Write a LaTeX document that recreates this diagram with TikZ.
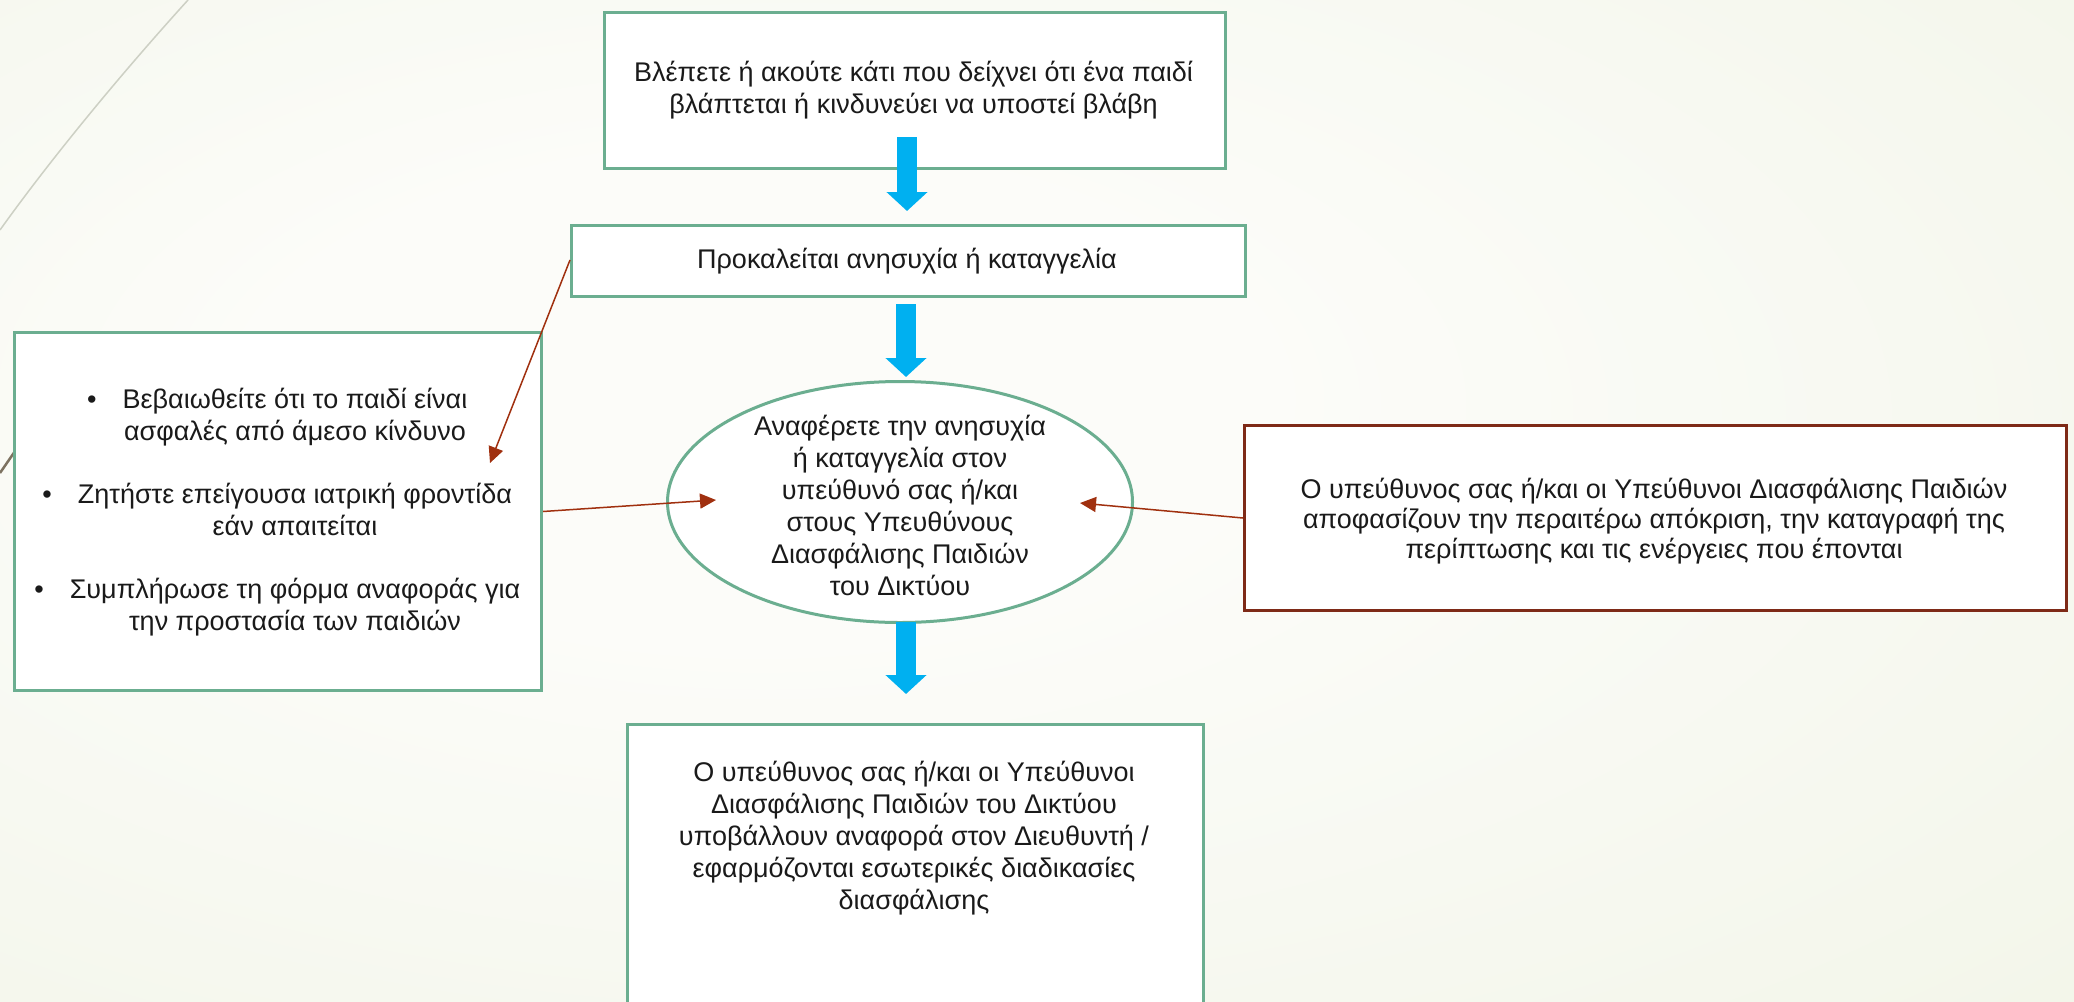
\documentclass[tikz,border=0pt]{standalone}
\usepackage{fontspec}
\setmainfont{Liberation Sans}
\usetikzlibrary{shapes.geometric,arrows.meta,calc}
\definecolor{bgin}{HTML}{FCFCF9}
\definecolor{bgmid}{HTML}{F3F6EA}
\definecolor{bgout}{HTML}{E1E9C8}
\definecolor{gborder}{HTML}{6BAE90}
\definecolor{rborder}{HTML}{7E2A17}
\definecolor{redarrow}{HTML}{A0300F}
\definecolor{bluearrowcol}{HTML}{00B0F0}
\definecolor{txtcol}{HTML}{1A1A1A}
\definecolor{curvecol}{HTML}{CDD0C4}
\definecolor{curvedark}{HTML}{7D7260}
\pgfdeclareradialshading{bgshade}{\pgfpoint{-8bp}{6bp}}{color(0bp)=(bgin); color(12bp)=(bgin); color(40bp)=(bgmid); color(80bp)=(bgout)}
\tikzset{
  gbox/.style={draw=gborder, line width=3pt, fill=white, rectangle, inner sep=0pt},
  rbox/.style={draw=rborder, line width=3pt, fill=white, rectangle, inner sep=0pt},
  txt/.style={text=txtcol, align=center, inner sep=0pt, font=\fontsize{27}{32}\selectfont},
  bluearr/.style={draw=bluearrowcol, line width=20pt, -{Triangle[length=19pt,width=40pt]}},
  redarr/.style={draw=redarrow, line width=1.5pt, -{Triangle[length=16pt,width=15pt]}}
}
\begin{document}
\begin{tikzpicture}[x=1pt,y=-1pt]
\clip (0,0) rectangle (2074,1001);
\shade[shading=bgshade] (0,0) rectangle (2074,1001);
% theme decorations
\draw[curvecol, line width=1.5pt] (188,0) .. controls (120,75) and (50,160) .. (0,230);
\draw[curvedark, line width=2.5pt] (0,473) -- (22,441);
% boxes
\node[gbox, minimum width=621pt, minimum height=156pt, anchor=north west] (b1) at (603,11) {};
\node[txt] (b1t) at (913.5,90) {Βλέπετε ή ακούτε κάτι που δείχνει ότι ένα παιδί\\βλάπτεται ή κινδυνεύει να υποστεί βλάβη};
\node[gbox, minimum width=674pt, minimum height=71pt, anchor=north west] (b2) at (570,224) {};
\node[txt] (b2t) at (907,261) {Προκαλείται ανησυχία ή καταγγελία};
\node[draw=gborder, line width=3pt, fill=white, ellipse, minimum width=465pt, minimum height=241pt, inner sep=0pt] (el) at (900,502) {};
\node[txt] (elt) at (900,505) {Αναφέρετε την ανησυχία\\ή καταγγελία στον\\υπεύθυνό σας ή/και\\στους Υπευθύνους\\Διασφάλισης Παιδιών\\του Δικτύου};
\node[gbox, minimum width=527pt, minimum height=358pt, anchor=north west] (lbox) at (13,331) {};
\node[txt] (lt) at (295,512) {\llap{•\hspace{26pt}}Βεβαιωθείτε ότι το παιδί είναι\\ασφαλές από άμεσο κίνδυνο\\[31pt]\llap{•\hspace{26pt}}Ζητήστε επείγουσα ιατρική φροντίδα\\εάν απαιτείται\\[31pt]\llap{•\hspace{26pt}}Συμπλήρωσε τη φόρμα αναφοράς για\\την προστασία των παιδιών};
\node[rbox, minimum width=822pt, minimum height=185pt, anchor=north west] (rbox) at (1243,424) {};
\node[txt, font=\fontsize{27}{30}\selectfont] (rt) at (1654,521) {Ο υπεύθυνος σας ή/και οι Υπεύθυνοι Διασφάλισης Παιδιών\\αποφασίζουν την περαιτέρω απόκριση, την καταγραφή της\\περίπτωσης και τις ενέργειες που έπονται};
\node[gbox, minimum width=576pt, minimum height=300pt, anchor=north west] (b5) at (626,723) {};
\node[txt] (b5t) at (914,838) {Ο υπεύθυνος σας ή/και οι Υπεύθυνοι\\Διασφάλισης Παιδιών του Δικτύου\\υποβάλλουν αναφορά στον Διευθυντή /\\εφαρμόζονται εσωτερικές διαδικασίες\\διασφάλισης};
% connector end points
\coordinate (a1s) at (907,137);
\coordinate (a1e) at (907,211);
\coordinate (a2s) at (906,304);
\coordinate (a2e) at (906,377);
\coordinate (a3s) at (906,622);
\coordinate (a3e) at (906,694);
\coordinate (r1s) at (570,260);
\coordinate (r1e) at (490,463);
\coordinate (r2e) at (716,500);
\coordinate (r3e) at (1080,503);
% blue arrows
\draw[bluearr] (a1s) -- (a1e);
\draw[bluearr] (a2s) -- (a2e);
\draw[bluearr] (a3s) -- (a3e);
% red arrows
\draw[redarr] (r1s) -- (r1e);
\draw[redarr] (lbox.east) -- (r2e);
\draw[redarr] (rbox.west) -- (r3e);
\end{tikzpicture}
\end{document}
